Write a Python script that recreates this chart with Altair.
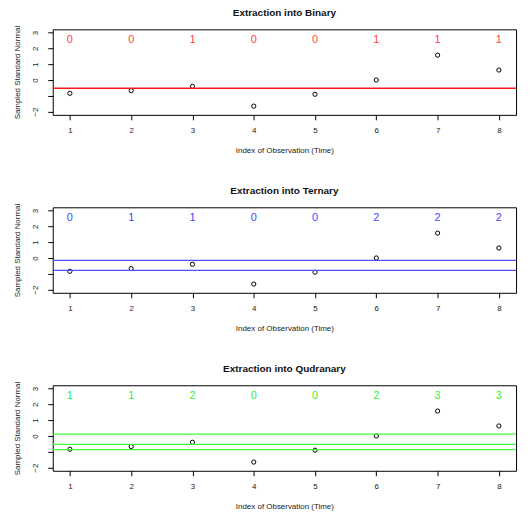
import altair as alt
import pandas as pd

idx = [1, 2, 3, 4, 5, 6, 7, 8]
values = [-0.84, -0.67, -0.40, -1.65, -0.90, 0.00, 1.57, 0.63]

titles = ["Extraction into Binary", "Extraction into Ternary", "Extraction into Qudranary"]
codes = [
    [0, 0, 1, 0, 0, 1, 1, 1],
    [0, 1, 1, 0, 0, 2, 2, 2],
    [1, 1, 2, 0, 0, 2, 3, 3],
]
cuts = [
    [-0.52],
    [-0.15, -0.78],
    [0.12, -0.53, -0.86],
]
line_colors = ["#ff1a1a", "#5050ff", "#40ff40"]
text_colors = ["#ff4444", "#4444ff", "#33f033"]
label_level = 2.5
y_ticks = [-2, -1, 0, 1, 2, 3]

FONT = "Liberation Sans"
xs = alt.Scale(domain=[0.72, 8.28], nice=False, zero=False)
ys = alt.Scale(domain=[-2.2, 3.2], nice=False, zero=False)

x_axis = alt.Axis(values=idx, format="d", grid=False, domain=False, tickSize=5,
                  tickColor="black", labelFontSize=8, labelColor="#222",
                  labelPadding=7, titleFontSize=8, titleFontWeight="normal",
                  titleColor="#222", titlePadding=12, labelFont=FONT, titleFont=FONT)
y_axis = alt.Axis(values=y_ticks, grid=False, domain=False, tickSize=5,
                  tickColor="black", labelAngle=-90, labelAlign="center",
                  labelBaseline="bottom", labelFontSize=8, labelColor="#222",
                  labelPadding=8, labelOverlap=False, labelFlush=False,
                  labelExpr="datum.value == -1 ? '' : datum.label",
                  titleFontSize=8, titleFontWeight="normal", titleColor="#222",
                  titlePadding=10, labelFont=FONT, titleFont=FONT)
XT = "Index of Observation (Time)"
YT = "Sampled Standard Normal"


def panel(i):
    df = pd.DataFrame({"idx": idx, "val": values, "code": [str(c) for c in codes[i]],
                       "lvl": [label_level] * len(idx)})
    cdf = pd.DataFrame({"cut": cuts[i]})
    pts = alt.Chart(df).mark_point(shape="circle", filled=False, color="black", size=18,
                                   strokeWidth=1, opacity=1).encode(
        x=alt.X("idx:Q", scale=xs, title=XT, axis=x_axis),
        y=alt.Y("val:Q", scale=ys, title=YT, axis=y_axis))
    txt = alt.Chart(df).mark_text(font=FONT, fontSize=11, color=text_colors[i]).encode(
        x=alt.X("idx:Q", scale=xs, title=XT, axis=x_axis),
        y=alt.Y("lvl:Q", scale=ys, title=YT, axis=y_axis), text="code:N")
    rules = alt.Chart(cdf).mark_rule(color=line_colors[i], strokeWidth=1.3).encode(
        y=alt.Y("cut:Q", scale=ys, title=YT, axis=y_axis))
    return alt.layer(pts, txt, rules).properties(
        width=466, height=86,
        title=alt.Title(titles[i], font=FONT, fontSize=10, fontWeight="bold", color="#111",
                        offset=7, anchor="middle"))


chart = alt.vconcat(panel(0), panel(1), panel(2), spacing=93, bounds="flush").properties(
    padding={"top": -2, "left": 5, "right": 5, "bottom": 0}
).configure(background="white").configure_view(stroke="black", strokeWidth=1)

chart.save("out.html", embed_options={"renderer": "svg", "actions": False})
